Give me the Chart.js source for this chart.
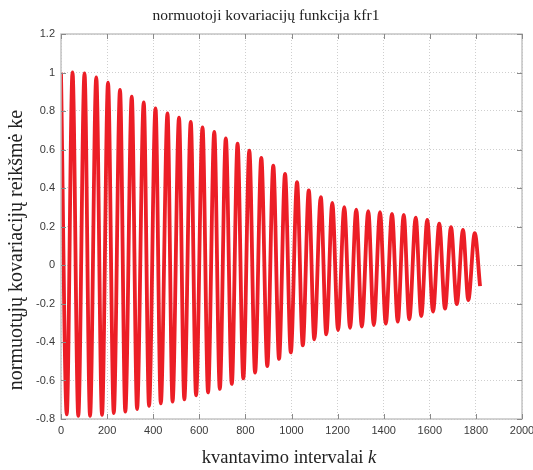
<!DOCTYPE html>
<html>
<head>
<meta charset="utf-8">
<script src="https://cdn.jsdelivr.net/npm/chart.js@4/dist/chart.umd.min.js"></script>
<style>
  html, body { margin: 0; padding: 0; background: #fff; }
  #wrap { width: 533px; height: 470px; }
</style>
</head>
<body>
<div id="wrap"><canvas id="kfr"></canvas></div>
<script>
// local maxima of kfr1 (lag k, value)
const peakK = [0, 50, 102, 153, 204, 256, 307, 359, 410, 462, 512, 563, 614, 665, 715, 766, 817, 869, 921, 972,
  1024, 1075, 1127, 1177, 1229, 1281, 1333, 1384, 1436, 1487, 1539, 1589, 1641, 1692, 1744, 1795];
const peakVal = [1.0, 1.0, 0.995, 0.975, 0.947, 0.909, 0.874, 0.845, 0.814, 0.788, 0.765, 0.743, 0.715, 0.691,
  0.658, 0.63, 0.594, 0.557, 0.516, 0.473, 0.43, 0.388, 0.353, 0.322, 0.301, 0.288, 0.28, 0.274, 0.265, 0.26,
  0.246, 0.234, 0.215, 0.197, 0.182, 0.165];
// local minima
const troughK = [25, 75, 126, 178, 229, 279, 330, 382, 433, 484, 535, 586, 638, 689, 741, 791, 842, 895, 946, 997,
  1049, 1099, 1151, 1202, 1254, 1305, 1357, 1409, 1461, 1511, 1563, 1614, 1666, 1717, 1767];
const troughVal = [-0.776, -0.784, -0.784, -0.779, -0.769, -0.762, -0.748, -0.732, -0.719, -0.71, -0.698, -0.677,
  -0.662, -0.644, -0.618, -0.589, -0.559, -0.525, -0.488, -0.454, -0.417, -0.386, -0.36, -0.338, -0.326, -0.32,
  -0.312, -0.305, -0.294, -0.282, -0.265, -0.242, -0.227, -0.203, -0.182];
// last sample
const tailK = [1818];
const tailVal = [-0.11];

const xTicks = [0, 200, 400, 600, 800, 1000, 1200, 1400, 1600, 1800, 2000];
const yTicks = [-0.8, -0.6, -0.4, -0.2, 0, 0.2, 0.4, 0.6, 0.8, 1, 1.2];

const titleText = 'normuotoji kovariacijų funkcija kfr1';
const xTitle = 'kvantavimo intervalai ';
const xTitleVar = 'k';
const yTitle = 'normuotųjų kovariacijų reikšmė ke';

const points = [];
peakK.forEach((k, i) => {
  points.push({ x: k, y: peakVal[i] });
  if (i < troughK.length) points.push({ x: troughK[i], y: troughVal[i] });
});
tailK.forEach((k, i) => points.push({ x: k, y: tailVal[i] }));

const serif = '"Liberation Serif", "DejaVu Serif", serif';
const sans = '"Liberation Sans", Arial, sans-serif';

// frame, inward ticks and the text around the axes
const decor = {
  id: 'decor',
  afterDraw(chart) {
    const ctx = chart.ctx;
    const a = chart.chartArea;
    const xs = chart.scales.x, ys = chart.scales.y;
    ctx.save();
    ctx.strokeStyle = '#c4c4c4';
    ctx.lineWidth = 1.5;
    ctx.strokeRect(a.left, a.top, a.right - a.left, a.bottom - a.top);

    ctx.strokeStyle = '#8a8a8a';
    ctx.lineWidth = 1;
    ctx.beginPath();
    xTicks.forEach(v => {
      const px = Math.round(xs.getPixelForValue(v)) + 0.5;
      ctx.moveTo(px, a.bottom); ctx.lineTo(px, a.bottom - 5);
      ctx.moveTo(px, a.top); ctx.lineTo(px, a.top + 5);
    });
    yTicks.forEach(v => {
      const py = Math.round(ys.getPixelForValue(v)) + 0.5;
      ctx.moveTo(a.left, py); ctx.lineTo(a.left + 5, py);
      ctx.moveTo(a.right, py); ctx.lineTo(a.right - 5, py);
    });
    ctx.stroke();

    ctx.fillStyle = '#222';
    ctx.textBaseline = 'alphabetic';
    ctx.textAlign = 'center';
    ctx.font = '15.5px ' + serif;
    ctx.fillText(titleText, 266, 20);

    // x title: plain words plus italic variable
    ctx.font = '18.5px ' + serif;
    const w1 = ctx.measureText(xTitle).width;
    ctx.font = 'italic 18.5px ' + serif;
    const w2 = ctx.measureText(xTitleVar).width;
    const x0 = 289 - (w1 + w2) / 2;
    ctx.textAlign = 'left';
    ctx.font = '18.5px ' + serif;
    ctx.fillText(xTitle, x0, 463);
    ctx.font = 'italic 18.5px ' + serif;
    ctx.fillText(xTitleVar, x0 + w1, 463);

    ctx.translate(22, 250);
    ctx.rotate(-Math.PI / 2);
    ctx.textAlign = 'center';
    ctx.font = '20px ' + serif;
    ctx.fillText(yTitle, 0, 0);
    ctx.restore();
  }
};

const plainNum = v => String(Math.round(v * 10) / 10);

new Chart(document.getElementById('kfr'), {
  type: 'line',
  data: {
    datasets: [{
      data: points,
      borderColor: 'rgb(236, 30, 38)',
      borderWidth: 3.8,
      pointRadius: 0,
      cubicInterpolationMode: 'monotone',
      fill: false
    }]
  },
  options: {
    responsive: true,
    maintainAspectRatio: false,
    animation: false,
    layout: { padding: { left: 0, right: 11, top: 34, bottom: 0 } },
    plugins: { legend: { display: false }, tooltip: { enabled: false }, title: { display: false } },
    scales: {
      x: {
        type: 'linear',
        min: 0, max: 2000,
        afterBuildTicks: s => { s.ticks = xTicks.map(v => ({ value: v })); },
        afterFit: s => { s.height = 51; s.paddingLeft = 0; s.paddingRight = 0; },
        grid: { color: '#cfcfcf', lineWidth: 1, drawTicks: false },
        border: { display: false, dash: [1, 2] },
        ticks: { padding: 5, maxRotation: 0, color: '#3a3a3a', font: { family: sans, size: 11 }, callback: v => String(v) }
      },
      y: {
        type: 'linear',
        min: -0.8, max: 1.2,
        afterBuildTicks: s => { s.ticks = yTicks.map(v => ({ value: v })); },
        afterFit: s => { s.width = 61; s.paddingTop = 0; s.paddingBottom = 0; },
        grid: { color: '#cfcfcf', lineWidth: 1, drawTicks: false },
        border: { display: false, dash: [1, 2] },
        ticks: { padding: 6, color: '#3a3a3a', font: { family: sans, size: 11 }, callback: plainNum }
      }
    }
  },
  plugins: [decor]
});
</script>
</body>
</html>
